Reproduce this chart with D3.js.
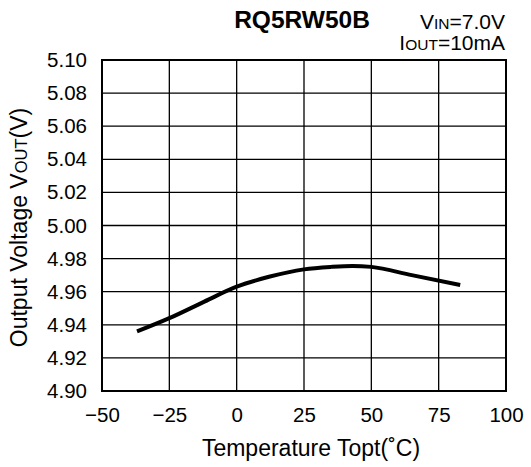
<!DOCTYPE html>
<html>
<head>
<meta charset="utf-8">
<script src="https://cdn.jsdelivr.net/npm/d3@7"></script>
<style>
  html, body { margin: 0; padding: 0; background: #fff; }
  svg text { font-family: "Liberation Sans", Arial, sans-serif; fill: #000; }
</style>
</head>
<body>
<svg id="chart" width="531" height="467"></svg>
<script>
// ---- data ----
const temps = [-37, -25, -12, 0, 12, 25, 35, 43, 50, 65, 83];
const volts = [4.936, 4.944, 4.954, 4.963, 4.969, 4.9735, 4.975, 4.9756, 4.975, 4.970, 4.964];
const xTicks = [-50, -25, 0, 25, 50, 75, 100];
const xTickLabels = ["\u221250", "\u221225", "0", "25", "50", "75", "100"];
const yTicks = [4.90, 4.92, 4.94, 4.96, 4.98, 5.00, 5.02, 5.04, 5.06, 5.08, 5.10];
const yTickLabels = ["4.90", "4.92", "4.94", "4.96", "4.98", "5.00", "5.02", "5.04", "5.06", "5.08", "5.10"];

const svg = d3.select("#chart");
const L = 102, R = 506, T = 60, B = 391;
const x = d3.scaleLinear().domain([-50, 100]).range([L, R]);
const y = d3.scaleLinear().domain([4.90, 5.10]).range([B, T]);

// grid
const grid = svg.append("g");
grid.selectAll("line.v").data(xTicks).enter().append("line")
  .attr("x1", d => x(d)).attr("x2", d => x(d)).attr("y1", T).attr("y2", B)
  .attr("stroke", "#000").attr("stroke-width", 1.3);
grid.selectAll("line.h").data(yTicks).enter().append("line")
  .attr("y1", d => y(d)).attr("y2", d => y(d)).attr("x1", L).attr("x2", R)
  .attr("stroke", "#000").attr("stroke-width", 1.3);

// frame
svg.append("rect").attr("x", L).attr("y", T).attr("width", R - L).attr("height", B - T)
  .attr("fill", "none").attr("stroke", "#000").attr("stroke-width", 2);

// tick labels via d3 axes (no lines)
const xAxis = d3.axisBottom(x).tickValues(xTicks).tickSize(0).tickPadding(16)
  .tickFormat((d, i) => xTickLabels[i]);
const gx = svg.append("g").attr("transform", `translate(0,${B})`).call(xAxis);
gx.select(".domain").remove();
gx.selectAll("text").attr("font-size", 20.5).attr("font-family", "Liberation Sans, Arial, sans-serif").attr("fill", "#000");

const yAxis = d3.axisLeft(y).tickValues(yTicks).tickSize(0).tickPadding(15)
  .tickFormat((d, i) => yTickLabels[i]);
const gy = svg.append("g").attr("transform", `translate(${L},0)`).call(yAxis);
gy.select(".domain").remove();
gy.selectAll("text").attr("font-size", 20.5).attr("font-family", "Liberation Sans, Arial, sans-serif").attr("fill", "#000");

// curve
const line = d3.line().x(d => x(d[0])).y(d => y(d[1])).curve(d3.curveMonotoneX);
svg.append("path").datum(temps.map((t, i) => [t, volts[i]]))
  .attr("d", line).attr("fill", "none").attr("stroke", "#000").attr("stroke-width", 4)
  .attr("stroke-linejoin", "round");

// titles
svg.append("text").attr("x", 302).attr("y", 28).attr("text-anchor", "middle")
  .attr("font-size", 24.5).attr("font-weight", "bold").text("RQ5RW50B");

const t1 = svg.append("text").attr("x", 505).attr("y", 29).attr("text-anchor", "end").attr("font-size", 21);
t1.append("tspan").text("V");
t1.append("tspan").attr("font-size", 15.5).text("IN");
t1.append("tspan").text("=7.0V");

const t2 = svg.append("text").attr("x", 505).attr("y", 50).attr("text-anchor", "end").attr("font-size", 21);
t2.append("tspan").text("I");
t2.append("tspan").attr("font-size", 15.5).text("OUT");
t2.append("tspan").text("=10mA");

svg.append("text").attr("x", (L + R) / 2 + 7).attr("y", 456).attr("text-anchor", "middle")
  .attr("font-size", 23).text("Temperature Topt(\u02DAC)");

const yl = svg.append("text").attr("transform", `translate(27,${(T + B) / 2 + 2}) rotate(-90)`)
  .attr("text-anchor", "middle").attr("font-size", 23);
yl.append("tspan").text("Output Voltage V");
yl.append("tspan").attr("font-size", 16.5).text("OUT");
yl.append("tspan").text("(V)");
</script>
</body>
</html>
